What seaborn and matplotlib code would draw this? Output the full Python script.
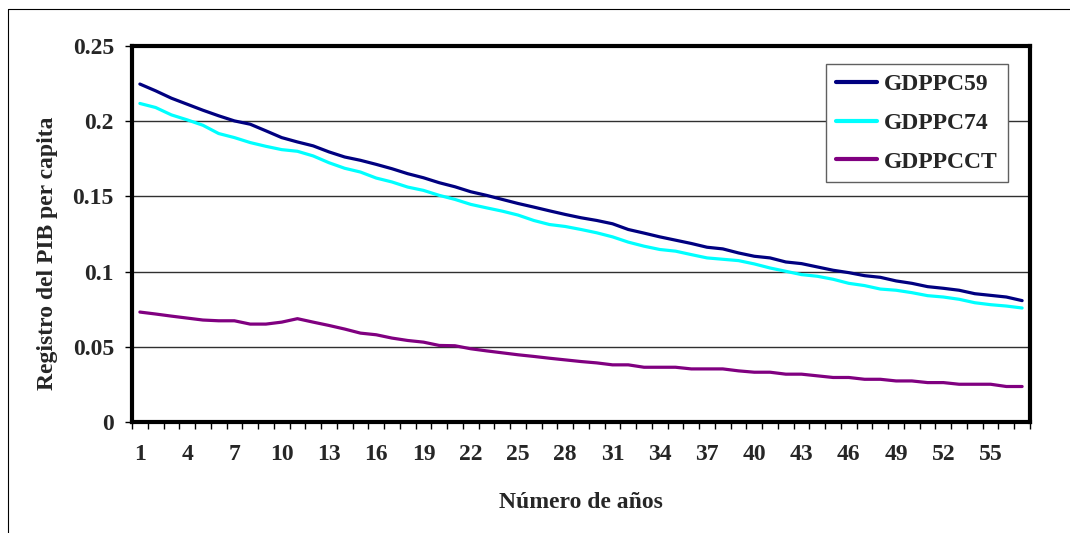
import pandas as pd
import numpy as np
import matplotlib
matplotlib.use('Agg')
import matplotlib.pyplot as plt
from matplotlib.lines import Line2D
from matplotlib.ticker import MultipleLocator, FixedLocator
import seaborn as sns

# Data
years = list(range(1, 58))
gdppc59 = [0.2247, 0.2202, 0.2153, 0.2113, 0.2073, 0.2036, 0.2002, 0.198, 0.1936, 0.1891,
           0.1862, 0.1836, 0.1796, 0.1762, 0.174, 0.1713, 0.1684, 0.1651, 0.1624, 0.1591,
           0.1564, 0.1531, 0.1507, 0.148, 0.1453, 0.1429, 0.1404, 0.138, 0.1358, 0.134,
           0.1318, 0.128, 0.1256, 0.1231, 0.1209, 0.1187, 0.1162, 0.1151, 0.1124, 0.1102,
           0.1091, 0.1064, 0.1053, 0.1031, 0.1009, 0.0993, 0.0973, 0.0962, 0.0938, 0.0922,
           0.09, 0.0889, 0.0876, 0.0853, 0.0842, 0.0831, 0.0807]
gdppc74 = [0.2118, 0.2091, 0.2042, 0.2009, 0.1973, 0.1918, 0.1891, 0.1858, 0.1833, 0.1811,
           0.18, 0.1769, 0.1724, 0.1687, 0.1662, 0.1622, 0.1596, 0.1562, 0.154, 0.1507,
           0.148, 0.1447, 0.1424, 0.1402, 0.1376, 0.134, 0.1313, 0.13, 0.128, 0.1258,
           0.1231, 0.1196, 0.1169, 0.1147, 0.1136, 0.1113, 0.1091, 0.1082, 0.1073, 0.1051,
           0.1024, 0.1002, 0.098, 0.0969, 0.0949, 0.0922, 0.0907, 0.0884, 0.0876, 0.086,
           0.084, 0.0831, 0.0816, 0.0793, 0.078, 0.0771, 0.0758]
gdppcct = [0.0731, 0.0718, 0.0704, 0.0691, 0.0678, 0.0673, 0.0673, 0.0651, 0.0651, 0.0664,
           0.0687, 0.0664, 0.0642, 0.0618, 0.0591, 0.058, 0.0558, 0.0542, 0.0531, 0.0509,
           0.0507, 0.0487, 0.0473, 0.046, 0.0447, 0.0436, 0.0424, 0.0413, 0.0402, 0.0393,
           0.038, 0.038, 0.0364, 0.0364, 0.0364, 0.0353, 0.0353, 0.0353, 0.034, 0.0331,
           0.0331, 0.0318, 0.0318, 0.0307, 0.0296, 0.0296, 0.0284, 0.0284, 0.0273, 0.0273,
           0.0262, 0.0262, 0.0251, 0.0251, 0.0251, 0.0236, 0.0236]
series_names = ['GDPPC59', 'GDPPC74', 'GDPPCCT']
series_colors = ['#000080', '#00FFFF', '#800080']
x_labels = list(range(1, 56, 3))
y_ticks = [0, 0.05, 0.1, 0.15, 0.2, 0.25]
y_labels = ['0', '0.05', '0.1', '0.15', '0.2', '0.25']

df = pd.DataFrame({
    'year': years * 3,
    'value': gdppc59 + gdppc74 + gdppcct,
    'series': [s for s in series_names for _ in years],
})

sns.set_style('white')
plt.rcParams['font.family'] = ['Liberation Serif', 'DejaVu Serif']
plt.rcParams['font.weight'] = 'bold'

fig = plt.figure(figsize=(10.7, 5.33), dpi=100)
ax = fig.add_axes([132 / 1070, 1 - 422 / 533, 898 / 1070, 376 / 533])

sns.lineplot(data=df, x='year', y='value', hue='series', hue_order=series_names,
             palette=series_colors, linewidth=2.3, ax=ax, legend=True)

ax.set_xlim(0.5, 57.5)
ax.set_ylim(0, 0.25)

# horizontal gridlines
ax.set_yticks(y_ticks)
ax.set_yticklabels(y_labels, fontsize=17, fontweight='bold')
ax.yaxis.grid(True, color='#303030', linewidth=1)
ax.xaxis.grid(False)
ax.set_axisbelow(True)

# category axis: labels every 3rd, ticks between categories
ax.xaxis.set_major_locator(FixedLocator(x_labels))
ax.set_xticklabels([str(v) for v in x_labels], fontsize=17, fontweight='bold')
ax.xaxis.set_minor_locator(MultipleLocator(1, offset=0.5))
ax.tick_params(axis='x', which='major', length=0, pad=16)
ax.tick_params(axis='x', which='minor', length=5, width=1, direction='out', color='black', bottom=True)
ax.tick_params(axis='y', which='major', length=5, width=1, direction='out', color='black', left=True, pad=8)

for sp in ax.spines.values():
    sp.set_visible(True)
    sp.set_color('black')
    sp.set_linewidth(3)

ax.set_xlabel('Número de años', fontsize=17, fontweight='bold')
ax.set_ylabel('Registro del PIB per capita', fontsize=17, fontweight='bold')
ax.xaxis.set_label_coords(0.5, -0.185)
ax.yaxis.set_label_coords(-0.082, 0.45)

leg = ax.legend(loc='upper right', bbox_to_anchor=(0.9755, 0.952), borderaxespad=0,
                fancybox=False, frameon=True, edgecolor='#606060', facecolor='white',
                framealpha=1, handlelength=1.75, handletextpad=0.3, labelspacing=0.72,
                borderpad=0.42, prop={'size': 17, 'weight': 'bold'})
leg.get_frame().set_linewidth(1)
for h in leg.get_lines():
    h.set_linewidth(3)

# outer chart area border (top and left edges visible)
fig.add_artist(Line2D([8 / 1070, 1], [1 - 9 / 533, 1 - 9 / 533], transform=fig.transFigure,
                      color='black', linewidth=0.8))
fig.add_artist(Line2D([8 / 1070, 8 / 1070], [0, 1 - 9 / 533], transform=fig.transFigure,
                      color='black', linewidth=0.8))

fig.savefig('out.png', dpi=100)
print("Plot saved to out.png")
